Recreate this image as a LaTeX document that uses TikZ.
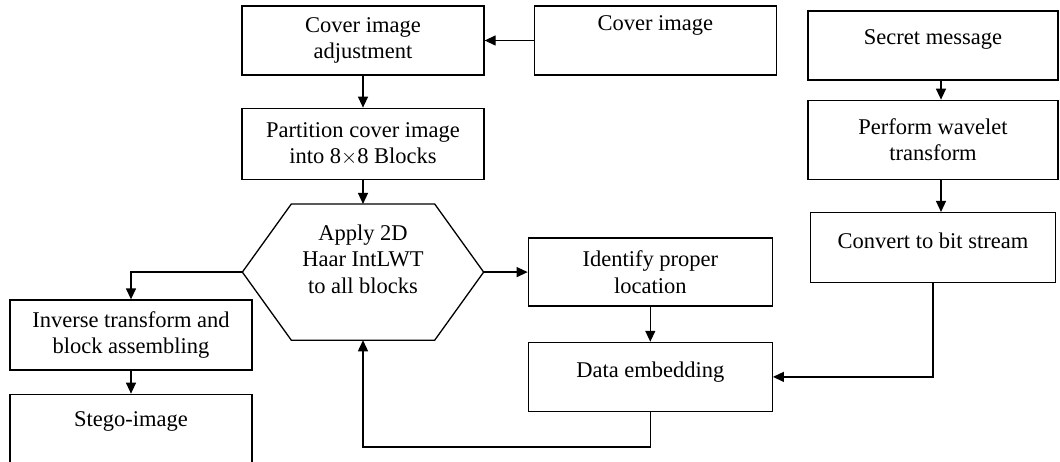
\documentclass[tikz,border=0pt]{standalone}
\usepackage{fontspec}
\setmainfont{Liberation Serif}
\usetikzlibrary{positioning,arrows.meta}

\begin{document}
\begin{tikzpicture}[x=1pt, y=1pt, line width=1.3pt, >={Triangle[length=11pt,width=10pt]},
    main/.style = {draw, rectangle, minimum width=242pt, minimum height=69pt, align=center,
                   inner sep=2pt, font=\fontsize{22.5}{26.5}\selectfont},
    lift/.style = {text depth=#1}]
            \useasboundingbox (0,0) rectangle (1060,461);

            % cover image side
            \node[main] (cadj) at (363,420.5) {Cover image\\adjustment};
            \node[main,lift=34pt] (cimg) [right=49pt of cadj] {Cover image};
            \node[main,minimum height=71pt] (part) [below=32pt of cadj] {Partition cover image\\into 8$\times$8 Blocks};
            \node[main,draw=none,minimum width=240pt,minimum height=135pt,lift=26pt] (hex) [below=24pt of part] {Apply 2D\\Haar IntLWT\\to all blocks};
            \draw (hex.west) -- ([xshift=49pt]hex.north west) -- ([xshift=-49pt]hex.north east)
                  -- (hex.east) -- ([xshift=-49pt]hex.south east) -- ([xshift=49pt]hex.south west) -- cycle;

            \node[main,minimum width=244pt,minimum height=68pt] (ident) [right=44pt of hex] {Identify proper\\location};
            \node[main,minimum width=244pt,lift=15pt] (embed) [below=35pt of ident] {Data embedding};

            \node[main,minimum height=70pt] (inv) at (131,126) {Inverse transform and\\block assembling};
            \node[main,minimum height=70pt,lift=21pt] (stego) [below=23pt of inv] {Stego-image};

            % secret message side
            \node[main,minimum width=250pt,lift=16pt] (secret) at (933,415.5) {Secret message};
            \node[main,minimum width=250pt,minimum height=79pt] (perf) [below=19pt of secret] {Perform wavelet\\transform};
            \node[main,minimum width=245pt,minimum height=70pt,lift=14pt] (conv) [below=32pt of perf] {Convert to bit stream};

            \draw[->] (cimg) -- (cadj);
            \draw[->] (cadj) -- (part);
            \draw[->] (part) -- (hex);
            \draw[->] (hex) -- (ident);
            \draw[->] (ident) -- (embed);
            \draw[->] (hex.west) -| (inv.north);
            \draw[->] (inv) -- (stego);

            \draw[->] ([xshift=8pt]secret.south) -- ([xshift=8pt]perf.north);
            \draw[->] ([xshift=8pt]perf.south) -- ([xshift=8pt]conv.north);
            \draw[->] (conv.south) |- (embed.east);
            \draw[->] (embed.south) -- ++(0,-35) -| (hex.south);

\end{tikzpicture}
\end{document}
